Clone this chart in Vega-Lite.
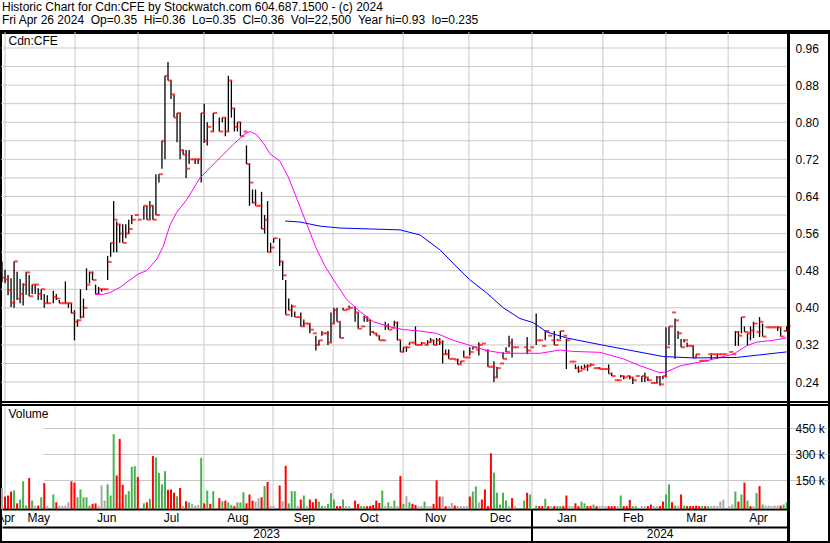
{
"$schema": "https://vega.github.io/schema/vega-lite/v6.json",
"width": 830, "height": 511,
"autosize": {"type": "none"},
"padding": {"left": 0, "top": 32, "right": 0, "bottom": 0},
"background": "white",
"title": {"text": ["Historic Chart for Cdn:CFE by Stockwatch.com 604.687.1500 - (c) 2024", "Fri Apr 26 2024 \u00a0Op=0.35 \u00a0Hi=0.36 \u00a0Lo=0.35 \u00a0Cl=0.36 \u00a0Vol=22,500 \u00a0Year hi=0.93 \u00a0lo=0.235"], "anchor": "start", "frame": "group", "font": "Liberation Sans", "fontSize": 12, "fontWeight": "normal", "lineHeight": 13, "offset": 4, "dx": 2, "color": "black"},
"config": {
 "view": {"stroke": "black", "strokeWidth": 4},
 "scale": {"continuousPadding": 0},
 "axis": {"labelFont": "Liberation Sans", "labelFontSize": 12, "labelColor": "black", "titleFont": "Liberation Sans", "titleFontSize": 12, "titleFontWeight": "normal", "titleColor": "black", "gridColor": "#c8c8c8", "gridWidth": 1, "ticks": false, "domain": false, "labelFlush": false, "labelOverlap": false, "labelBound": false}
},
"datasets": {
"px": [
{"i":0,"h":0.5,"l":0.455,"c":0.465,"v":105000,"d":"f"},
{"i":1,"h":0.482,"l":0.453,"c":0.461,"v":56000,"d":"d"},
{"i":2,"h":0.471,"l":0.427,"c":0.438,"v":62000,"d":"d"},
{"i":3,"h":0.464,"l":0.402,"c":0.411,"v":85000,"d":"d"},
{"i":4,"h":0.5,"l":0.4,"c":0.5,"v":91000,"d":"u"},
{"i":5,"h":0.478,"l":0.417,"c":0.42,"v":17000,"d":"d"},
{"i":6,"h":0.462,"l":0.41,"c":0.43,"v":39000,"d":"u"},
{"i":7,"h":0.453,"l":0.405,"c":0.45,"v":144000,"d":"u"},
{"i":8,"h":0.478,"l":0.428,"c":0.476,"v":4000,"d":"u"},
{"i":9,"h":0.471,"l":0.425,"c":0.425,"v":163000,"d":"d"},
{"i":10,"h":0.45,"l":0.43,"c":0.45,"v":33000,"d":"u"},
{"i":11,"h":0.45,"l":0.43,"c":0.45,"v":3000,"d":"f"},
{"i":12,"h":0.442,"l":0.417,"c":0.43,"v":4000,"d":"d"},
{"i":13,"h":0.44,"l":0.417,"c":0.44,"v":52000,"d":"u"},
{"i":14,"h":0.43,"l":0.4,"c":0.41,"v":134000,"d":"d"},
{"i":15,"h":0.427,"l":0.41,"c":0.41,"v":2000,"d":"f"},
{"i":17,"h":0.437,"l":0.41,"c":0.423,"v":68000,"d":"u"},
{"i":18,"h":0.43,"l":0.417,"c":0.42,"v":23000,"d":"d"},
{"i":19,"h":0.417,"l":0.41,"c":0.41,"v":3000,"d":"f"},
{"i":20,"h":0.41,"l":0.41,"c":0.41,"v":1000,"d":"f"},
{"i":21,"h":0.457,"l":0.41,"c":0.41,"v":3000,"d":"f"},
{"i":22,"h":0.41,"l":0.4,"c":0.41,"v":23000,"d":"f"},
{"i":23,"h":0.41,"l":0.388,"c":0.389,"v":144000,"d":"d"},
{"i":24,"h":0.395,"l":0.33,"c":0.37,"v":136000,"d":"d"},
{"i":25,"h":0.375,"l":0.359,"c":0.373,"v":52000,"d":"u"},
{"i":26,"h":0.44,"l":0.377,"c":0.38,"v":97000,"d":"u"},
{"i":27,"h":0.42,"l":0.38,"c":0.4,"v":52000,"d":"u"},
{"i":28,"h":0.485,"l":0.438,"c":0.45,"v":52000,"d":"u"},
{"i":29,"h":0.478,"l":0.453,"c":0.476,"v":4000,"d":"u"},
{"i":30,"h":0.478,"l":0.46,"c":0.46,"v":14000,"d":"d"},
{"i":31,"h":0.45,"l":0.43,"c":0.43,"v":17000,"d":"d"},
{"i":32,"h":0.445,"l":0.43,"c":0.44,"v":2000,"d":"f"},
{"i":33,"h":0.44,"l":0.435,"c":0.44,"v":120000,"d":"f"},
{"i":34,"h":0.44,"l":0.44,"c":0.44,"v":33000,"d":"f"},
{"i":35,"h":0.512,"l":0.46,"c":0.499,"v":126000,"d":"u"},
{"i":36,"h":0.54,"l":0.51,"c":0.54,"v":62000,"d":"u"},
{"i":37,"h":0.63,"l":0.52,"c":0.59,"v":415000,"d":"u"},
{"i":38,"h":0.586,"l":0.52,"c":0.58,"v":178000,"d":"d"},
{"i":39,"h":0.58,"l":0.54,"c":0.56,"v":388000,"d":"d"},
{"i":40,"h":0.58,"l":0.54,"c":0.54,"v":124000,"d":"d"},
{"i":41,"h":0.58,"l":0.55,"c":0.56,"v":68000,"d":"u"},
{"i":42,"h":0.59,"l":0.56,"c":0.57,"v":87000,"d":"u"},
{"i":43,"h":0.6,"l":0.58,"c":0.59,"v":227000,"d":"u"},
{"i":44,"h":0.6,"l":0.6,"c":0.6,"v":231000,"d":"u"},
{"i":45,"h":0.59,"l":0.59,"c":0.59,"v":169000,"d":"d"},
{"i":47,"h":0.62,"l":0.59,"c":0.62,"v":17000,"d":"u"},
{"i":48,"h":0.62,"l":0.59,"c":0.59,"v":23000,"d":"d"},
{"i":49,"h":0.63,"l":0.59,"c":0.62,"v":43000,"d":"u"},
{"i":50,"h":0.62,"l":0.59,"c":0.59,"v":289000,"d":"d"},
{"i":51,"h":0.688,"l":0.6,"c":0.6,"v":281000,"d":"u"},
{"i":52,"h":0.688,"l":0.67,"c":0.688,"v":192000,"d":"u"},
{"i":53,"h":0.76,"l":0.7,"c":0.76,"v":126000,"d":"u"},
{"i":54,"h":0.9,"l":0.72,"c":0.9,"v":202000,"d":"u"},
{"i":55,"h":0.93,"l":0.89,"c":0.89,"v":95000,"d":"d"},
{"i":56,"h":0.89,"l":0.85,"c":0.86,"v":97000,"d":"d"},
{"i":57,"h":0.86,"l":0.81,"c":0.81,"v":78000,"d":"d"},
{"i":58,"h":0.82,"l":0.757,"c":0.82,"v":58000,"d":"u"},
{"i":59,"h":0.82,"l":0.72,"c":0.74,"v":105000,"d":"d"},
{"i":60,"h":0.74,"l":0.73,"c":0.73,"v":2000,"d":"f"},
{"i":61,"h":0.74,"l":0.68,"c":0.7,"v":29000,"d":"d"},
{"i":62,"h":0.74,"l":0.71,"c":0.72,"v":23000,"d":"u"},
{"i":63,"h":0.72,"l":0.72,"c":0.72,"v":14000,"d":"f"},
{"i":64,"h":0.72,"l":0.71,"c":0.72,"v":4000,"d":"f"},
{"i":65,"h":0.72,"l":0.71,"c":0.72,"v":8000,"d":"f"},
{"i":66,"h":0.82,"l":0.67,"c":0.82,"v":279000,"d":"u"},
{"i":67,"h":0.84,"l":0.755,"c":0.76,"v":17000,"d":"d"},
{"i":68,"h":0.8,"l":0.75,"c":0.79,"v":91000,"d":"u"},
{"i":69,"h":0.78,"l":0.78,"c":0.78,"v":14000,"d":"d"},
{"i":70,"h":0.82,"l":0.78,"c":0.82,"v":87000,"d":"u"},
{"i":72,"h":0.81,"l":0.78,"c":0.78,"v":47000,"d":"d"},
{"i":73,"h":0.81,"l":0.8,"c":0.81,"v":29000,"d":"u"},
{"i":74,"h":0.81,"l":0.77,"c":0.78,"v":33000,"d":"d"},
{"i":75,"h":0.9,"l":0.78,"c":0.89,"v":23000,"d":"u"},
{"i":76,"h":0.89,"l":0.81,"c":0.83,"v":8000,"d":"u"},
{"i":77,"h":0.83,"l":0.78,"c":0.79,"v":1000,"d":"d"},
{"i":78,"h":0.8,"l":0.78,"c":0.8,"v":23000,"d":"u"},
{"i":79,"h":0.8,"l":0.77,"c":0.77,"v":23000,"d":"u"},
{"i":80,"h":0.78,"l":0.78,"c":0.78,"v":81000,"d":"u"},
{"i":81,"h":0.75,"l":0.71,"c":0.71,"v":17000,"d":"d"},
{"i":82,"h":0.71,"l":0.62,"c":0.67,"v":68000,"d":"d"},
{"i":83,"h":0.655,"l":0.625,"c":0.627,"v":33000,"d":"d"},
{"i":84,"h":0.655,"l":0.62,"c":0.62,"v":27000,"d":"f"},
{"i":85,"h":0.62,"l":0.62,"c":0.62,"v":47000,"d":"f"},
{"i":86,"h":0.65,"l":0.57,"c":0.57,"v":52000,"d":"d"},
{"i":87,"h":0.6,"l":0.56,"c":0.59,"v":116000,"d":"u"},
{"i":88,"h":0.63,"l":0.52,"c":0.52,"v":140000,"d":"d"},
{"i":89,"h":0.54,"l":0.52,"c":0.53,"v":2000,"d":"f"},
{"i":90,"h":0.55,"l":0.54,"c":0.55,"v":2000,"d":"f"},
{"i":92,"h":0.55,"l":0.49,"c":0.5,"v":120000,"d":"d"},
{"i":93,"h":0.5,"l":0.46,"c":0.47,"v":29000,"d":"f"},
{"i":94,"h":0.46,"l":0.385,"c":0.385,"v":233000,"d":"d"},
{"i":95,"h":0.42,"l":0.395,"c":0.395,"v":17000,"d":"u"},
{"i":96,"h":0.407,"l":0.38,"c":0.403,"v":87000,"d":"u"},
{"i":97,"h":0.392,"l":0.38,"c":0.38,"v":87000,"d":"u"},
{"i":98,"h":0.38,"l":0.38,"c":0.38,"v":2000,"d":"f"},
{"i":99,"h":0.39,"l":0.36,"c":0.36,"v":39000,"d":"d"},
{"i":100,"h":0.375,"l":0.36,"c":0.366,"v":62000,"d":"u"},
{"i":101,"h":0.366,"l":0.366,"c":0.366,"v":1000,"d":"f"},
{"i":102,"h":0.366,"l":0.345,"c":0.353,"v":39000,"d":"d"},
{"i":103,"h":0.345,"l":0.345,"c":0.345,"v":23000,"d":"d"},
{"i":104,"h":0.34,"l":0.308,"c":0.32,"v":43000,"d":"d"},
{"i":105,"h":0.33,"l":0.32,"c":0.33,"v":27000,"d":"u"},
{"i":106,"h":0.35,"l":0.34,"c":0.345,"v":1000,"d":"u"},
{"i":107,"h":0.345,"l":0.345,"c":0.345,"v":1000,"d":"f"},
{"i":108,"h":0.35,"l":0.32,"c":0.325,"v":14000,"d":"u"},
{"i":109,"h":0.39,"l":0.325,"c":0.366,"v":76000,"d":"u"},
{"i":110,"h":0.4,"l":0.366,"c":0.395,"v":39000,"d":"u"},
{"i":111,"h":0.4,"l":0.37,"c":0.37,"v":1000,"d":"d"},
{"i":112,"h":0.37,"l":0.335,"c":0.335,"v":1000,"d":"d"},
{"i":113,"h":0.4,"l":0.395,"c":0.395,"v":39000,"d":"u"},
{"i":114,"h":0.397,"l":0.397,"c":0.397,"v":1000,"d":"f"},
{"i":115,"h":0.405,"l":0.4,"c":0.4,"v":1000,"d":"f"},
{"i":117,"h":0.403,"l":0.37,"c":0.39,"v":33000,"d":"d"},
{"i":118,"h":0.39,"l":0.355,"c":0.355,"v":14000,"d":"d"},
{"i":119,"h":0.36,"l":0.36,"c":0.36,"v":1000,"d":"u"},
{"i":120,"h":0.383,"l":0.37,"c":0.38,"v":1000,"d":"u"},
{"i":121,"h":0.38,"l":0.37,"c":0.373,"v":1000,"d":"d"},
{"i":122,"h":0.374,"l":0.34,"c":0.348,"v":3000,"d":"d"},
{"i":123,"h":0.35,"l":0.345,"c":0.345,"v":8000,"d":"d"},
{"i":124,"h":0.345,"l":0.34,"c":0.34,"v":33000,"d":"d"},
{"i":125,"h":0.34,"l":0.33,"c":0.33,"v":19000,"d":"d"},
{"i":126,"h":0.33,"l":0.33,"c":0.33,"v":91000,"d":"u"},
{"i":127,"h":0.37,"l":0.352,"c":0.36,"v":1000,"d":"f"},
{"i":128,"h":0.366,"l":0.353,"c":0.353,"v":23000,"d":"u"},
{"i":129,"h":0.357,"l":0.357,"c":0.357,"v":1000,"d":"f"},
{"i":130,"h":0.372,"l":0.36,"c":0.368,"v":33000,"d":"u"},
{"i":131,"h":0.37,"l":0.33,"c":0.331,"v":1000,"d":"f"},
{"i":132,"h":0.33,"l":0.305,"c":0.305,"v":175000,"d":"d"},
{"i":133,"h":0.315,"l":0.305,"c":0.315,"v":14000,"d":"u"},
{"i":134,"h":0.315,"l":0.305,"c":0.315,"v":58000,"d":"f"},
{"i":135,"h":0.325,"l":0.32,"c":0.325,"v":23000,"d":"u"},
{"i":136,"h":0.325,"l":0.325,"c":0.325,"v":14000,"d":"d"},
{"i":137,"h":0.36,"l":0.32,"c":0.32,"v":8000,"d":"d"},
{"i":138,"h":0.32,"l":0.32,"c":0.32,"v":1000,"d":"f"},
{"i":139,"h":0.326,"l":0.32,"c":0.324,"v":1000,"d":"f"},
{"i":140,"h":0.32,"l":0.32,"c":0.32,"v":27000,"d":"u"},
{"i":141,"h":0.33,"l":0.32,"c":0.326,"v":1000,"d":"f"},
{"i":142,"h":0.335,"l":0.325,"c":0.33,"v":1000,"d":"f"},
{"i":143,"h":0.33,"l":0.32,"c":0.32,"v":14000,"d":"d"},
{"i":144,"h":0.335,"l":0.32,"c":0.33,"v":149000,"d":"d"},
{"i":145,"h":0.335,"l":0.32,"c":0.325,"v":56000,"d":"d"},
{"i":146,"h":0.33,"l":0.28,"c":0.3,"v":56000,"d":"f"},
{"i":147,"h":0.31,"l":0.3,"c":0.3,"v":1000,"d":"d"},
{"i":148,"h":0.31,"l":0.29,"c":0.29,"v":1000,"d":"f"},
{"i":149,"h":0.29,"l":0.29,"c":0.29,"v":19000,"d":"f"},
{"i":150,"h":0.288,"l":0.288,"c":0.288,"v":4000,"d":"d"},
{"i":151,"h":0.29,"l":0.278,"c":0.278,"v":1000,"d":"f"},
{"i":152,"h":0.285,"l":0.28,"c":0.285,"v":1000,"d":"f"},
{"i":153,"h":0.308,"l":0.293,"c":0.293,"v":1000,"d":"f"},
{"i":154,"h":0.293,"l":0.293,"c":0.293,"v":1000,"d":"f"},
{"i":155,"h":0.315,"l":0.297,"c":0.305,"v":56000,"d":"d"},
{"i":156,"h":0.315,"l":0.31,"c":0.315,"v":85000,"d":"u"},
{"i":157,"h":0.31,"l":0.31,"c":0.31,"v":114000,"d":"u"},
{"i":158,"h":0.326,"l":0.297,"c":0.32,"v":23000,"d":"f"},
{"i":159,"h":0.323,"l":0.323,"c":0.323,"v":39000,"d":"d"},
{"i":160,"h":0.308,"l":0.308,"c":0.308,"v":97000,"d":"d"},
{"i":161,"h":0.31,"l":0.273,"c":0.273,"v":1000,"d":"d"},
{"i":162,"h":0.273,"l":0.273,"c":0.273,"v":305000,"d":"d"},
{"i":163,"h":0.285,"l":0.24,"c":0.25,"v":194000,"d":"u"},
{"i":164,"h":0.273,"l":0.25,"c":0.27,"v":78000,"d":"u"},
{"i":165,"h":0.28,"l":0.28,"c":0.28,"v":10000,"d":"u"},
{"i":166,"h":0.305,"l":0.29,"c":0.29,"v":78000,"d":"u"},
{"i":167,"h":0.315,"l":0.305,"c":0.305,"v":33000,"d":"u"},
{"i":168,"h":0.34,"l":0.315,"c":0.325,"v":1000,"d":"f"},
{"i":169,"h":0.334,"l":0.293,"c":0.315,"v":47000,"d":"d"},
{"i":170,"h":0.315,"l":0.315,"c":0.315,"v":1000,"d":"f"},
{"i":173,"h":0.315,"l":0.315,"c":0.315,"v":33000,"d":"u"},
{"i":174,"h":0.337,"l":0.3,"c":0.308,"v":78000,"d":"d"},
{"i":175,"h":0.315,"l":0.315,"c":0.315,"v":68000,"d":"u"},
{"i":177,"h":0.388,"l":0.32,"c":0.33,"v":4000,"d":"u"},
{"i":178,"h":0.33,"l":0.33,"c":0.33,"v":1000,"d":"d"},
{"i":179,"h":0.318,"l":0.318,"c":0.318,"v":1000,"d":"d"},
{"i":180,"h":0.35,"l":0.33,"c":0.35,"v":43000,"d":"u"},
{"i":181,"h":0.34,"l":0.34,"c":0.34,"v":1000,"d":"d"},
{"i":182,"h":0.33,"l":0.33,"c":0.33,"v":1000,"d":"f"},
{"i":183,"h":0.35,"l":0.32,"c":0.32,"v":1000,"d":"d"},
{"i":184,"h":0.333,"l":0.33,"c":0.33,"v":1000,"d":"u"},
{"i":185,"h":0.35,"l":0.333,"c":0.35,"v":1000,"d":"u"},
{"i":186,"h":0.34,"l":0.34,"c":0.34,"v":1000,"d":"d"},
{"i":187,"h":0.333,"l":0.268,"c":0.33,"v":62000,"d":"d"},
{"i":188,"h":0.284,"l":0.284,"c":0.284,"v":1000,"d":"f"},
{"i":189,"h":0.284,"l":0.284,"c":0.284,"v":1000,"d":"f"},
{"i":190,"h":0.278,"l":0.268,"c":0.27,"v":17000,"d":"d"},
{"i":191,"h":0.275,"l":0.26,"c":0.264,"v":1000,"d":"d"},
{"i":192,"h":0.275,"l":0.268,"c":0.268,"v":27000,"d":"u"},
{"i":193,"h":0.278,"l":0.27,"c":0.273,"v":17000,"d":"u"},
{"i":194,"h":0.278,"l":0.264,"c":0.275,"v":1000,"d":"d"},
{"i":195,"h":0.28,"l":0.277,"c":0.277,"v":1000,"d":"d"},
{"i":196,"h":0.27,"l":0.27,"c":0.27,"v":10000,"d":"u"},
{"i":197,"h":0.27,"l":0.27,"c":0.27,"v":1000,"d":"d"},
{"i":198,"h":0.272,"l":0.268,"c":0.268,"v":1000,"d":"f"},
{"i":199,"h":0.268,"l":0.268,"c":0.268,"v":4000,"d":"f"},
{"i":200,"h":0.268,"l":0.268,"c":0.268,"v":1000,"d":"f"},
{"i":201,"h":0.278,"l":0.258,"c":0.258,"v":1000,"d":"d"},
{"i":202,"h":0.26,"l":0.253,"c":0.253,"v":1000,"d":"d"},
{"i":203,"h":0.244,"l":0.244,"c":0.244,"v":1000,"d":"d"},
{"i":204,"h":0.244,"l":0.244,"c":0.244,"v":1000,"d":"f"},
{"i":205,"h":0.255,"l":0.25,"c":0.253,"v":62000,"d":"u"},
{"i":206,"h":0.253,"l":0.246,"c":0.25,"v":1000,"d":"d"},
{"i":207,"h":0.253,"l":0.253,"c":0.253,"v":1000,"d":"d"},
{"i":208,"h":0.253,"l":0.246,"c":0.25,"v":37000,"d":"d"},
{"i":209,"h":0.25,"l":0.236,"c":0.244,"v":1000,"d":"u"},
{"i":210,"h":0.253,"l":0.253,"c":0.253,"v":1000,"d":"u"},
{"i":212,"h":0.253,"l":0.24,"c":0.253,"v":1000,"d":"f"},
{"i":213,"h":0.26,"l":0.24,"c":0.25,"v":1000,"d":"f"},
{"i":214,"h":0.25,"l":0.242,"c":0.244,"v":1000,"d":"d"},
{"i":215,"h":0.238,"l":0.238,"c":0.238,"v":10000,"d":"d"},
{"i":216,"h":0.238,"l":0.238,"c":0.238,"v":1000,"d":"f"},
{"i":217,"h":0.253,"l":0.238,"c":0.25,"v":1000,"d":"f"},
{"i":218,"h":0.253,"l":0.232,"c":0.235,"v":1000,"d":"d"},
{"i":219,"h":0.253,"l":0.246,"c":0.253,"v":27000,"d":"d"},
{"i":220,"h":0.358,"l":0.25,"c":0.315,"v":68000,"d":"u"},
{"i":221,"h":0.36,"l":0.32,"c":0.36,"v":126000,"d":"u"},
{"i":222,"h":0.39,"l":0.39,"c":0.39,"v":23000,"d":"d"},
{"i":223,"h":0.377,"l":0.29,"c":0.373,"v":4000,"d":"u"},
{"i":224,"h":0.35,"l":0.333,"c":0.345,"v":1000,"d":"f"},
{"i":225,"h":0.333,"l":0.315,"c":0.315,"v":68000,"d":"d"},
{"i":226,"h":0.333,"l":0.325,"c":0.33,"v":4000,"d":"u"},
{"i":227,"h":0.325,"l":0.315,"c":0.318,"v":1000,"d":"d"},
{"i":228,"h":0.318,"l":0.318,"c":0.318,"v":1000,"d":"d"},
{"i":229,"h":0.318,"l":0.293,"c":0.293,"v":1000,"d":"d"},
{"i":230,"h":0.3,"l":0.295,"c":0.3,"v":4000,"d":"d"},
{"i":231,"h":0.286,"l":0.286,"c":0.286,"v":1000,"d":"d"},
{"i":232,"h":0.286,"l":0.286,"c":0.286,"v":1000,"d":"u"},
{"i":233,"h":0.286,"l":0.286,"c":0.286,"v":1000,"d":"d"},
{"i":234,"h":0.3,"l":0.3,"c":0.3,"v":1000,"d":"u"},
{"i":235,"h":0.3,"l":0.288,"c":0.3,"v":1000,"d":"f"},
{"i":236,"h":0.3,"l":0.3,"c":0.3,"v":4000,"d":"f"},
{"i":237,"h":0.3,"l":0.29,"c":0.3,"v":1000,"d":"f"},
{"i":238,"h":0.3,"l":0.3,"c":0.3,"v":27000,"d":"f"},
{"i":239,"h":0.3,"l":0.3,"c":0.3,"v":37000,"d":"f"},
{"i":241,"h":0.305,"l":0.305,"c":0.305,"v":1000,"d":"f"},
{"i":242,"h":0.3,"l":0.3,"c":0.3,"v":10000,"d":"f"},
{"i":243,"h":0.35,"l":0.318,"c":0.348,"v":85000,"d":"u"},
{"i":244,"h":0.35,"l":0.318,"c":0.34,"v":27000,"d":"d"},
{"i":245,"h":0.38,"l":0.345,"c":0.38,"v":68000,"d":"u"},
{"i":246,"h":0.36,"l":0.348,"c":0.348,"v":136000,"d":"d"},
{"i":247,"h":0.345,"l":0.318,"c":0.345,"v":33000,"d":"u"},
{"i":248,"h":0.36,"l":0.33,"c":0.351,"v":1000,"d":"d"},
{"i":249,"h":0.37,"l":0.335,"c":0.366,"v":1000,"d":"f"},
{"i":250,"h":0.348,"l":0.348,"c":0.348,"v":76000,"d":"u"},
{"i":251,"h":0.38,"l":0.337,"c":0.37,"v":116000,"d":"d"},
{"i":252,"h":0.366,"l":0.338,"c":0.338,"v":10000,"d":"u"},
{"i":253,"h":0.358,"l":0.358,"c":0.358,"v":4000,"d":"f"},
{"i":254,"h":0.358,"l":0.358,"c":0.358,"v":4000,"d":"f"},
{"i":255,"h":0.358,"l":0.358,"c":0.358,"v":1000,"d":"f"},
{"i":256,"h":0.358,"l":0.358,"c":0.358,"v":4000,"d":"f"},
{"i":257,"h":0.36,"l":0.35,"c":0.358,"v":4000,"d":"f"},
{"i":258,"h":0.358,"l":0.338,"c":0.338,"v":4000,"d":"d"},
{"i":259,"h":0.35,"l":0.35,"c":0.35,"v":10000,"d":"u"},
{"i":260,"h":0.36,"l":0.35,"c":0.36,"v":22500,"d":"u"}
],
"pink": [
{"i":30.8,"p":0.429},{"i":33.6,"p":0.429},{"i":35.8,"p":0.433},{"i":39.1,"p":0.444},{"i":42.4,"p":0.46},{"i":45.2,"p":0.473},{"i":47.9,"p":0.48},{"i":51.3,"p":0.505},{"i":53.4,"p":0.532},{"i":55.7,"p":0.579},{"i":57.9,"p":0.606},{"i":61.2,"p":0.633},{"i":65.6,"p":0.68},{"i":71.1,"p":0.716},{"i":76.6,"p":0.752},{"i":80.5,"p":0.775},{"i":82.2,"p":0.78},{"i":84.4,"p":0.773},{"i":86.6,"p":0.755},{"i":88.8,"p":0.732},{"i":92.1,"p":0.716},{"i":95,"p":0.68},{"i":98,"p":0.63},{"i":101,"p":0.58},{"i":104,"p":0.53},{"i":107,"p":0.49},{"i":109.8,"p":0.461},{"i":114.2,"p":0.418},{"i":118.6,"p":0.392},{"i":123,"p":0.37},{"i":128.6,"p":0.359},{"i":133,"p":0.353},{"i":138.5,"p":0.35},{"i":144,"p":0.345},{"i":149.5,"p":0.33},{"i":155.1,"p":0.319},{"i":160.6,"p":0.308},{"i":166.1,"p":0.302},{"i":171.6,"p":0.302},{"i":178.3,"p":0.302},{"i":184.9,"p":0.309},{"i":189.3,"p":0.306},{"i":198.1,"p":0.304},{"i":205.9,"p":0.29},{"i":211.4,"p":0.275},{"i":218,"p":0.26},{"i":220.2,"p":0.262},{"i":224.7,"p":0.275},{"i":233.5,"p":0.286},{"i":242.3,"p":0.3},{"i":246.7,"p":0.318},{"i":250,"p":0.326},{"i":255.6,"p":0.33},{"i":260,"p":0.335}
],
"blue": [
{"i":93.8,"p":0.587},{"i":98.7,"p":0.585},{"i":105.4,"p":0.576},{"i":112,"p":0.572},{"i":121.9,"p":0.57},{"i":131.9,"p":0.568},{"i":138.5,"p":0.557},{"i":145.1,"p":0.525},{"i":150.1,"p":0.492},{"i":154.9,"p":0.461},{"i":160.6,"p":0.432},{"i":166.1,"p":0.4},{"i":171.6,"p":0.377},{"i":176,"p":0.368},{"i":180.5,"p":0.348},{"i":187.1,"p":0.335},{"i":200.3,"p":0.318},{"i":219.1,"p":0.295},{"i":229.1,"p":0.292},{"i":243.4,"p":0.293},{"i":260,"p":0.305}
],
"mb": [{"b":1.0},{"b":24.2},{"b":45.1},{"b":66.9},{"b":89.8},{"b":109.7},{"b":132.9},{"b":154.7},{"b":175.6},{"b":199.1},{"b":220.0},{"b":240.6}],
"yb": [{"b":175.6}],
"sep": [{"b":260.6}]
},
"resolve": {"scale": {"y": "independent"}, "axis": {"x": "independent", "y": "independent"}},
"layer": [
{
 "data": {"name": "px"},
 "layer": [
  {"data": {"name": "mb"}, "mark": {"type": "rule", "color": "#c8c8c8", "strokeWidth": 1},
   "encoding": {"x": {"field": "b", "type": "quantitative", "axis": null}, "y": {"datum": 0.197}, "y2": {"datum": 0.9945}}},
  {"data": {"name": "sep"}, "mark": {"type": "rule", "color": "#c8c8c8", "strokeWidth": 1}, "encoding": {"y": {"datum": 0.24}, "x": {"field": "b", "type": "quantitative", "axis": null}, "x2": {"datum": -0.3}}},
  {"data": {"name": "sep"}, "mark": {"type": "rule", "color": "#c8c8c8", "strokeWidth": 1}, "encoding": {"y": {"datum": 0.28}, "x": {"field": "b", "type": "quantitative", "axis": null}, "x2": {"datum": -0.3}}},
  {"data": {"name": "sep"}, "mark": {"type": "rule", "color": "#c8c8c8", "strokeWidth": 1}, "encoding": {"y": {"datum": 0.32}, "x": {"field": "b", "type": "quantitative", "axis": null}, "x2": {"datum": -0.3}}},
  {"data": {"name": "sep"}, "mark": {"type": "rule", "color": "#c8c8c8", "strokeWidth": 1}, "encoding": {"y": {"datum": 0.36}, "x": {"field": "b", "type": "quantitative", "axis": null}, "x2": {"datum": -0.3}}},
  {"data": {"name": "sep"}, "mark": {"type": "rule", "color": "#c8c8c8", "strokeWidth": 1}, "encoding": {"y": {"datum": 0.40}, "x": {"field": "b", "type": "quantitative", "axis": null}, "x2": {"datum": -0.3}}},
  {"data": {"name": "sep"}, "mark": {"type": "rule", "color": "#c8c8c8", "strokeWidth": 1}, "encoding": {"y": {"datum": 0.44}, "x": {"field": "b", "type": "quantitative", "axis": null}, "x2": {"datum": -0.3}}},
  {"data": {"name": "sep"}, "mark": {"type": "rule", "color": "#c8c8c8", "strokeWidth": 1}, "encoding": {"y": {"datum": 0.48}, "x": {"field": "b", "type": "quantitative", "axis": null}, "x2": {"datum": -0.3}}},
  {"data": {"name": "sep"}, "mark": {"type": "rule", "color": "#c8c8c8", "strokeWidth": 1}, "encoding": {"y": {"datum": 0.52}, "x": {"field": "b", "type": "quantitative", "axis": null}, "x2": {"datum": -0.3}}},
  {"data": {"name": "sep"}, "mark": {"type": "rule", "color": "#c8c8c8", "strokeWidth": 1}, "encoding": {"y": {"datum": 0.56}, "x": {"field": "b", "type": "quantitative", "axis": null}, "x2": {"datum": -0.3}}},
  {"data": {"name": "sep"}, "mark": {"type": "rule", "color": "#c8c8c8", "strokeWidth": 1}, "encoding": {"y": {"datum": 0.60}, "x": {"field": "b", "type": "quantitative", "axis": null}, "x2": {"datum": -0.3}}},
  {"data": {"name": "sep"}, "mark": {"type": "rule", "color": "#c8c8c8", "strokeWidth": 1}, "encoding": {"y": {"datum": 0.64}, "x": {"field": "b", "type": "quantitative", "axis": null}, "x2": {"datum": -0.3}}},
  {"data": {"name": "sep"}, "mark": {"type": "rule", "color": "#c8c8c8", "strokeWidth": 1}, "encoding": {"y": {"datum": 0.68}, "x": {"field": "b", "type": "quantitative", "axis": null}, "x2": {"datum": -0.3}}},
  {"data": {"name": "sep"}, "mark": {"type": "rule", "color": "#c8c8c8", "strokeWidth": 1}, "encoding": {"y": {"datum": 0.72}, "x": {"field": "b", "type": "quantitative", "axis": null}, "x2": {"datum": -0.3}}},
  {"data": {"name": "sep"}, "mark": {"type": "rule", "color": "#c8c8c8", "strokeWidth": 1}, "encoding": {"y": {"datum": 0.76}, "x": {"field": "b", "type": "quantitative", "axis": null}, "x2": {"datum": -0.3}}},
  {"data": {"name": "sep"}, "mark": {"type": "rule", "color": "#c8c8c8", "strokeWidth": 1}, "encoding": {"y": {"datum": 0.80}, "x": {"field": "b", "type": "quantitative", "axis": null}, "x2": {"datum": -0.3}}},
  {"data": {"name": "sep"}, "mark": {"type": "rule", "color": "#c8c8c8", "strokeWidth": 1}, "encoding": {"y": {"datum": 0.84}, "x": {"field": "b", "type": "quantitative", "axis": null}, "x2": {"datum": -0.3}}},
  {"data": {"name": "sep"}, "mark": {"type": "rule", "color": "#c8c8c8", "strokeWidth": 1}, "encoding": {"y": {"datum": 0.88}, "x": {"field": "b", "type": "quantitative", "axis": null}, "x2": {"datum": -0.3}}},
  {"data": {"name": "sep"}, "mark": {"type": "rule", "color": "#c8c8c8", "strokeWidth": 1}, "encoding": {"y": {"datum": 0.92}, "x": {"field": "b", "type": "quantitative", "axis": null}, "x2": {"datum": -0.3}}},
  {"data": {"name": "sep"}, "mark": {"type": "rule", "color": "#c8c8c8", "strokeWidth": 1}, "encoding": {"y": {"datum": 0.96}, "x": {"field": "b", "type": "quantitative", "axis": null}, "x2": {"datum": -0.3}}},
  {"mark": {"type": "rule", "color": "black", "strokeWidth": 1.3},
   "encoding": {
    "x": {"field": "i", "type": "quantitative", "scale": {"domain": [0, 260], "range": [2, 786.7], "nice": false, "zero": false, "padding": 0}, "axis": null},
    "y": {"field": "l", "type": "quantitative", "scale": {"domain": [0.197, 0.9945], "range": [370, 0], "nice": false, "zero": false, "padding": 0},
          "axis": {"orient": "right", "offset": -42, "values": [0.24,0.28,0.32,0.36,0.4,0.44,0.48,0.52,0.56,0.6,0.64,0.68,0.72,0.76,0.8,0.84,0.88,0.92,0.96], "format": ".2f", "grid": false, "labelPadding": 7, "title": "Cdn:CFE", "titleAngle": 0, "titleX": -780, "titleY": 12, "titleAlign": "left", "titleBaseline": "alphabetic"}},
    "y2": {"field": "h"}
   }},
  {"mark": {"type": "tick", "orient": "horizontal", "color": "#ff0000", "size": 4, "thickness": 2, "xOffset": 2},
   "encoding": {"x": {"field": "i", "type": "quantitative", "axis": null}, "y": {"field": "c", "type": "quantitative"}}},
  {"data": {"name": "pink"}, "mark": {"type": "line", "color": "#ff00ff", "strokeWidth": 1},
   "encoding": {"x": {"field": "i", "type": "quantitative", "axis": null}, "y": {"field": "p", "type": "quantitative"}}},
  {"data": {"name": "blue"}, "mark": {"type": "line", "color": "#0000ff", "strokeWidth": 1},
   "encoding": {"x": {"field": "i", "type": "quantitative", "axis": null}, "y": {"field": "p", "type": "quantitative"}}},
  {"mark": {"type": "rule", "color": "black", "strokeWidth": 1.5}, "encoding": {"y": {"datum": 0.197}}}
 ]
},
{
 "data": {"name": "px"},
 "layer": [
  {"data": {"name": "mb"}, "mark": {"type": "rule", "color": "#c8c8c8", "strokeWidth": 1},
   "encoding": {"x": {"field": "b", "type": "quantitative"}, "y": {"datum": 583000}, "y2": {"datum": -15600}}},
  {"mark": {"type": "bar", "width": 2},
   "encoding": {
    "x": {"field": "i", "type": "quantitative", "scale": {"domain": [0, 260], "range": [2, 786.7], "nice": false, "zero": false, "padding": 0},
          "axis": {"orient": "bottom", "offset": -34, "values": [1,12,34.5,56,78,100,121.5,143.5,165,187,209,230,250.5], "labelExpr": "datum.value < 5 ? 'Apr' : datum.value < 20 ? 'May' : datum.value < 40 ? 'Jun' : datum.value < 60 ? 'Jul' : datum.value < 90 ? 'Aug' : datum.value < 110 ? 'Sep' : datum.value < 130 ? 'Oct' : datum.value < 150 ? 'Nov' : datum.value < 175 ? 'Dec' : datum.value < 200 ? 'Jan' : datum.value < 220 ? 'Feb' : datum.value < 240 ? 'Mar' : 'Apr'", "grid": false, "domain": true, "domainColor": "black", "domainWidth": 2, "labelPadding": 3, "title": null}},
    "y": {"field": "v", "type": "quantitative", "scale": {"domain": [-15600, 583000], "range": [477, 373], "nice": false, "zero": false, "padding": 0},
          "axis": {"orient": "right", "offset": -42, "values": [150000, 300000, 450000], "labelExpr": "(datum.value / 1000) + ' k'", "grid": true, "labelPadding": 7, "title": "Volume", "titleAngle": 0, "titleX": -780, "titleY": 385, "titleAlign": "left", "titleBaseline": "alphabetic"}},
    "y2": {"datum": -15600},
    "color": {"field": "d", "type": "nominal", "scale": {"domain": ["u", "d", "f"], "range": ["#4cb050", "#ff0000", "#a8a8a8"]}, "legend": null}
   }},
  {"mark": {"type": "rule", "color": "black", "strokeWidth": 1.5}, "encoding": {"y": {"datum": 583000}}}
 ]
},
{
 "data": {"name": "yb"},
 "mark": {"type": "rule", "color": "black", "strokeWidth": 2},
 "encoding": {
  "x": {"field": "b", "type": "quantitative", "scale": {"domain": [0, 260], "range": [2, 786.7], "nice": false, "zero": false, "padding": 0},
        "axis": {"orient": "bottom", "offset": -16, "values": [87.5, 217.9], "labelExpr": "datum.value < 150 ? '2023' : '2024'", "grid": false, "domain": true, "domainColor": "black", "domainWidth": 2, "labelPadding": 1, "title": null}},
  "y": {"datum": 0, "scale": {"domain": [0, 1], "range": [509, 477], "nice": false, "zero": false}, "axis": null},
  "y2": {"datum": 1}
 }
},
{
 "data": {"name": "sep"},
 "mark": {"type": "rule", "color": "black", "strokeWidth": 3},
 "encoding": {"x": {"field": "b", "type": "quantitative", "scale": {"domain": [0, 260], "range": [2, 786.7], "nice": false, "zero": false, "padding": 0}, "axis": null}}
}
]
}
